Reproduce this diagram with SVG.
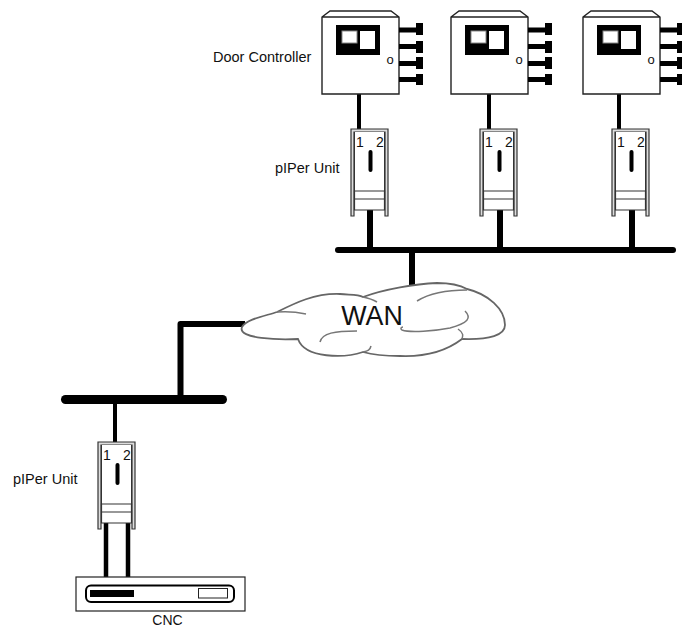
<svg xmlns="http://www.w3.org/2000/svg" xmlns:xlink="http://www.w3.org/1999/xlink" width="682" height="627" viewBox="0 0 682 627">
<style>
text{font-family:"Liberation Sans",Arial,sans-serif;fill:#111}
.lbl{font-size:14.5px}
.num{font-size:14px}
.bk{fill:#000}
.ln{fill:none;stroke:#000}
.gr{fill:none;stroke:#777;stroke-width:1.5}
</style>
<defs>
<g id="ctrl">
<path d="M322 17L330 11H391L399 17V94H322ZM322 17H399" fill="#fff" stroke="#222" stroke-width="1.4"/>
<rect class="bk" x="336" y="25" width="44" height="30"/>
<rect x="342" y="31" width="15" height="12" fill="#fff" stroke="#888"/>
<rect x="360" y="31" width="15" height="18" fill="#fff"/>
<text x="390" y="64" font-size="13" text-anchor="middle">o</text>
<path class="bk" d="M399 27.500h17v-4.500h7v12h-7v-2.500h-17zM399 44h17v-3h7v12h-7v-4h-17zM399 61h17v-4h7v12h-7v-3h-17zM399 77h17v-3h7v11h-7v-3h-17z"/>
</g>
<g id="unit">
<path d="M0 87V0H37V87H34V3H3V87Z" fill="#ddd" stroke="#333" stroke-width="1.2"/>
<rect x="3.500" y="3" width="30" height="78" fill="#fff"/>
<path d="M3.500 3V62M33.500 3V62" fill="none" stroke="#333"/>
<path d="M3.500 62H33.500V81H3.500ZM3.500 70H33.500" fill="#fff" stroke="#333" stroke-width="1.2"/>
<text class="num" x="5" y="18">1</text><text class="num" x="25" y="18">2</text>
<rect x="17.500" y="21" width="4" height="22" rx="2" class="bk"/>
</g>
</defs>
<g id="connectors">
<path class="ln" stroke-width="4" d="M359 94V129M489 94V129M619 94V129"/>
<path class="ln" stroke-width="6" d="M370 210V250M500 210V250M632 210V250M412 250V286"/>
<path class="ln" stroke-width="6" stroke-linecap="round" d="M338 250H673"/>
<path class="ln" stroke-width="6" stroke-linejoin="round" d="M245 324H180.500V399"/>
<path class="ln" stroke-width="9" stroke-linecap="round" d="M65.500 399.500H222.500"/>
<path class="ln" stroke-width="4" d="M115 399V442"/>
<path class="ln" stroke-width="4.500" d="M106 523V577M128 523V577"/>
</g>
<g id="door-controller-1"><use xlink:href="#ctrl"/></g>
<g id="door-controller-2"><use xlink:href="#ctrl" x="129"/></g>
<g id="door-controller-3"><use xlink:href="#ctrl" x="261"/></g>
<text class="lbl" x="213" y="62">Door Controller</text>
<g id="piper-1"><use xlink:href="#unit" x="351" y="129"/></g>
<g id="piper-2"><use xlink:href="#unit" x="480" y="129"/></g>
<g id="piper-3"><use xlink:href="#unit" x="612" y="129"/></g>
<text class="lbl" x="275" y="173">pIPer Unit</text>
<g id="wan">
<path d="M242 327C247 319 265 316 277 312C295 303 315 293 340 294C350 295 358 294 363 297C385 289 415 284 437 283C447 283 458 284 467 289C488 294 505 309 505 325C505 335 490 340 462 339C445 352 425 357 400 356C385 356 370 354 363 352C345 358 305 359 298 339C280 340 237 339 242 327Z" fill="#fff" stroke="#666" stroke-width="1.800"/>
<path class="gr" d="M277 312C288 311 297 312 306 314M363 297C368 298 372 299 377 302M417 301C430 293 450 290 467 290M465 311C472 318 468 323 450 328C435 331 410 333 402 330C400 329 401 327 403 327M320 342C322 333 335 331 357 331M458 329C464 333 463 336 462 339M371 346C370 350 368 351 363 352"/>
<text x="372" y="325" font-size="26.800" text-anchor="middle">WAN</text>
</g>
<g id="piper-4"><use xlink:href="#unit" x="98" y="442"/></g>
<text class="lbl" x="13" y="484">pIPer Unit</text>
<g id="cnc">
<rect x="76" y="577" width="169" height="34" fill="#fff" stroke="#222" stroke-width="1.200"/>
<rect x="86" y="585.500" width="148" height="16.500" rx="5" fill="#fff" stroke="#000" stroke-width="2"/>
<rect class="bk" x="90" y="590" width="44" height="7"/>
<rect x="198.500" y="588.500" width="29" height="9.500" fill="#fff" stroke="#222"/>
<text x="167.500" y="625" font-size="14" text-anchor="middle">CNC</text>
</g>
</svg>
